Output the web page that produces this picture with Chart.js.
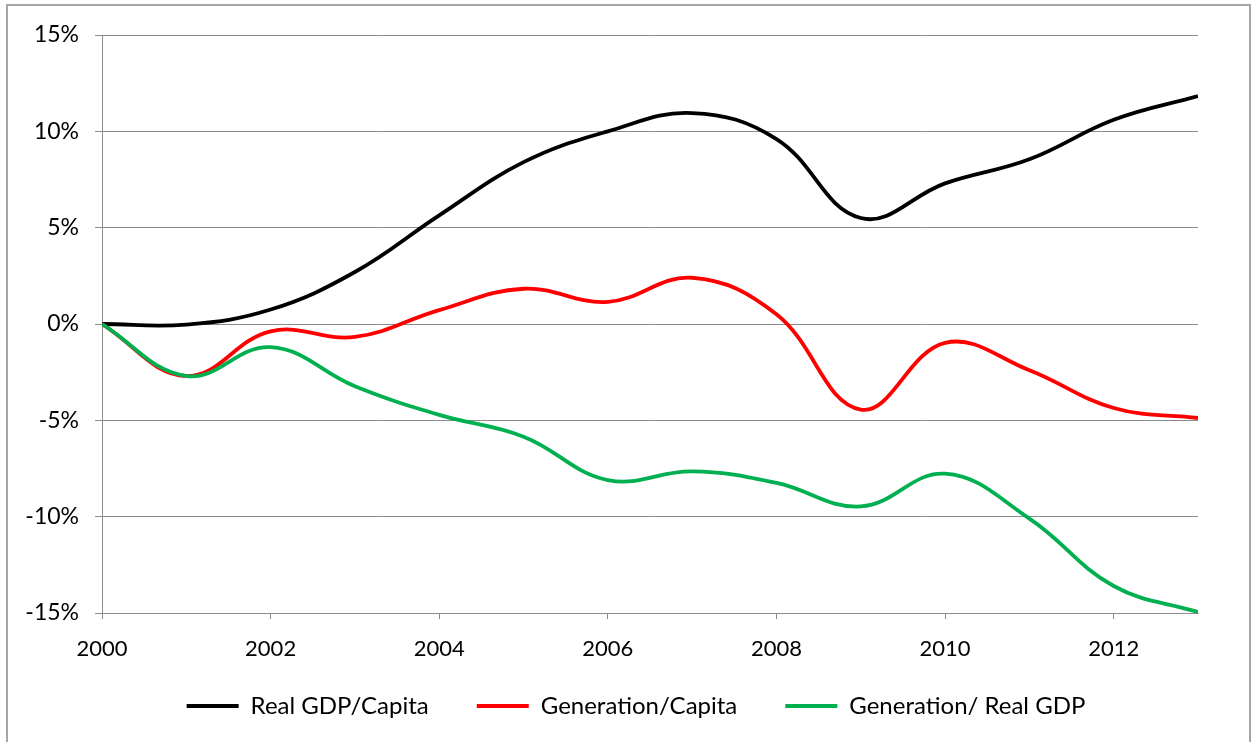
<!DOCTYPE html>
<html>
<head>
<meta charset="utf-8">
<script src="https://cdn.jsdelivr.net/npm/chart.js@4"></script>
<style>
  html, body { margin: 0; padding: 0; background: #fff; }
  #wrap { width: 1253px; height: 742px; position: relative; }
</style>
</head>
<body>
<div id="wrap"><canvas id="chart" width="1253" height="742"></canvas></div>
<script>
/*
DATA
*/
// years on the x axis
const years = [2000, 2001, 2002, 2003, 2004, 2005, 2006, 2007, 2008, 2009, 2010, 2011, 2012, 2013];

// change since 2000, in percent
const realGdpPerCapita = [0, -0.03, 0.75, 2.7, 5.64, 8.4, 10.0, 10.95, 9.6, 5.5, 7.3, 8.55, 10.6, 11.83];
const generationPerCapita = [0, -2.7, -0.38, -0.67, 0.72, 1.83, 1.15, 2.4, 0.5, -4.44, -0.98, -2.4, -4.36, -4.88];
const generationPerGdp = [0, -2.7, -1.2, -3.23, -4.72, -5.85, -8.1, -7.65, -8.25, -9.47, -7.77, -10.1, -13.6, -14.95];

const seriesNames = ['Real GDP/Capita', 'Generation/Capita', 'Generation/ Real GDP'];
const seriesColors = ['#000000', '#ff0000', '#00b050'];

// tick values
const xTicks = [2000, 2002, 2004, 2006, 2008, 2010, 2012];
const yTicks = [-15, -10, -5, 0, 5, 10, 15];

const FONT = 'Lato, "Open Sans", sans-serif';
const GRID = '#8c8c8c';

function toPoints(values) {
  return values.map((v, i) => ({ x: years[i], y: v }));
}

const allSeries = [realGdpPerCapita, generationPerCapita, generationPerGdp];

let datasets = allSeries.map((values, i) => ({
  label: seriesNames[i],
  data: toPoints(values),
  borderColor: seriesColors[i],
  backgroundColor: seriesColors[i],
  borderWidth: 3.8,
  pointRadius: 0,
  tension: 0.4,
  // green on top of red, like the original
  order: allSeries.length - i
}));

// outer frame of the chart
const framePlugin = {
  id: 'frame',
  beforeDraw(chart) {
    const ctx = chart.ctx;
    ctx.save();
    ctx.fillStyle = '#fff';
    ctx.fillRect(0, 0, chart.width, chart.height);
    ctx.strokeStyle = '#a6a6a6';
    ctx.lineWidth = 2;
    ctx.strokeRect(7, 5, 1243, 800);
    ctx.restore();
  }
};

// legend: fixed height, then moved up a bit so its row sits where the original has it
const legendPlacePlugin = {
  id: 'legendPlace',
  afterInit(chart) {
    const legend = chart.legend;
    const origFit = legend.fit;
    legend.fit = function () {
      origFit.call(this);
      this.height = 73;
    };
  },
  afterLayout(chart) {
    const legend = chart.legend;
    legend.top = 646;
    legend.bottom = 646 + 96;
  }
};

let chart = new Chart(document.getElementById('chart'), {
  type: 'line',
  data: { datasets: datasets },
  plugins: [framePlugin, legendPlacePlugin],
  options: {
    responsive: false,
    animation: false,
    layout: {
      padding: { left: 20, right: 1, top: 35, bottom: 0 }
    },
    scales: {
      x: {
        type: 'linear',
        min: 2000,
        max: 2013,
        afterFit(scale) { scale.height = 56; },
        afterBuildTicks(scale) {
          scale.ticks = xTicks.map(v => ({ value: v }));
        },
        border: { display: true, color: GRID, width: 1 },
        grid: {
          drawOnChartArea: false,
          drawTicks: true,
          tickLength: 6,
          color: GRID
        },
        ticks: {
          autoSkip: false,
          maxRotation: 0,
          padding: 17,
          color: '#000',
          font: { family: FONT, size: 22 },
          callback: v => String(v)
        }
      },
      y: {
        min: -15,
        max: 15,
        afterFit(scale) { scale.width = 82; },
        afterBuildTicks(scale) {
          scale.ticks = yTicks.map(v => ({ value: v }));
        },
        border: { display: true, color: GRID, width: 1 },
        grid: {
          color: GRID,
          lineWidth: 1,
          drawTicks: true,
          tickLength: 7
        },
        ticks: {
          padding: 16,
          color: '#000',
          font: { family: FONT, size: 23 },
          callback: v => Math.round(v) + '%'
        }
      },
      // empty space on the right, so the plot ends where the original does
      yRight: {
        position: 'right',
        min: -15,
        max: 15,
        afterFit(scale) { scale.width = 54; },
        border: { display: false },
        grid: { display: false },
        ticks: { display: false }
      }
    },
    plugins: {
      legend: {
        position: 'bottom',
        labels: {
          usePointStyle: true,
          pointStyle: 'line',
          pointStyleWidth: 52,
          padding: 48,
          color: '#000',
          font: { family: FONT, size: 24 },
          sort: (a, b) => a.datasetIndex - b.datasetIndex
        }
      },
      tooltip: { enabled: false }
    }
  }
});
</script>
</body>
</html>
